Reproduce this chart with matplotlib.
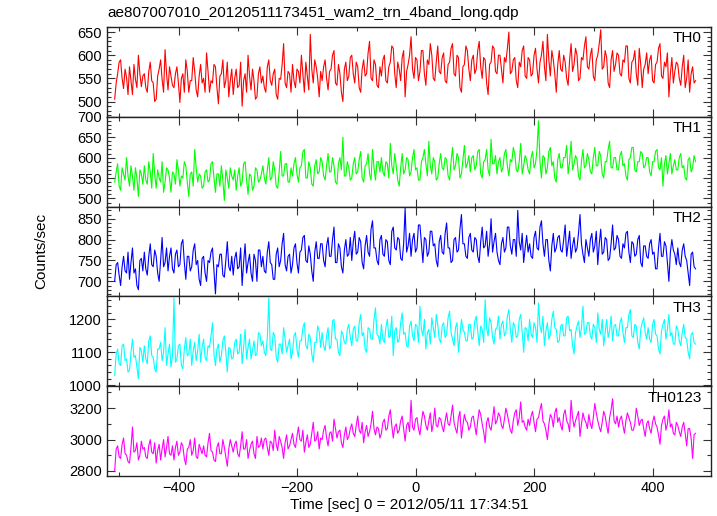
import numpy as np
import matplotlib
matplotlib.use("Agg")
import matplotlib.pyplot as plt
from matplotlib.ticker import MultipleLocator

plt.rcParams["font.family"] = ["Liberation Sans", "DejaVu Sans"]

title = "ae807007010_20120511173451_wam2_trn_4band_long.qdp"
xlabel = "Time [sec] 0 = 2012/05/11 17:34:51"
ylabel = "Counts/sec"

T_START, T_STEP = -508.0, 2.5

th0 = [505,540, 560,585, 590,550, 528,570, 552,515, 575,545, 515,580, 548,530, 600,560, 532,555,
       560,530, 520,565, 585,545, 540,500, 505,555, 570,590, 548,520, 612,560, 525,575, 555,535,
       530,560, 575,540, 498,550, 560,520, 590,565, 520,545, 545,595, 565,525, 510,555, 580,540,
       550,520, 605,565, 520,545, 540,580, 575,530, 495,555, 560,590, 530,545, 585,510, 545,570,
       515,550, 570,530, 535,585, 490,545, 560,520, 600,555, 525,570, 545,505, 510,560, 575,540,
       555,530, 520,575, 590,545, 535,560, 570,515, 505,550, 548,580, 625,540, 530,565, 560,520,
       580,545, 530,570, 565,540, 600,560, 520,585, 555,525, 645,570, 540,590, 575,550, 510,565,
       545,575, 590,550, 525,565, 570,600, 610,540, 535,580, 560,520, 500,570, 585,545, 555,595,
       600,560, 540,585, 575,530, 520,570, 590,555, 560,605, 630,550, 545,590, 580,535, 530,575,
       555,590, 600,545, 540,575, 585,620, 615,560, 530,585, 570,545, 595,610, 510,565, 580,600,
       640,570, 550,595, 590,545, 565,610, 610,560, 535,590, 580,625, 600,550, 545,585, 620,565,
       560,595, 605,545, 540,580, 585,615, 625,560, 555,600, 595,530, 520,575, 580,620, 610,570,
       545,590, 600,560, 570,610, 630,575, 550,595, 590,540, 515,580, 585,620, 615,565, 560,600,
       600,570, 540,595, 585,615, 650,560, 565,590, 595,545, 530,585, 575,610, 620,555, 550,595,
       590,555, 560,600, 615,570, 540,585, 600,630, 575,545, 645,590, 555,610, 590,560, 520,580,
       610,570, 565,600, 585,550, 535,590, 625,565, 580,615, 600,545, 550,595, 590,620, 640,575,
       570,600, 615,555, 545,590, 600,625, 655,570, 575,610, 595,540, 530,590, 610,565, 580,605,
       600,560, 555,590, 585,620, 620,550, 540,585, 590,610, 560,535, 615,580, 530,570, 580,605,
       560,590, 600,545, 540,580, 585,615, 625,555, 550,585, 575,605, 510,560, 595,540, 565,585,
       580,550, 535,575, 600,530, 550,590, 520,560, 575,540, 545]

th1 = [540,565, 585,530, 520,575, 560,545, 600,555, 530,580, 555,520, 575,550, 505,570, 560,535,
       580,545, 535,590, 565,525, 610,560, 525,570, 550,540, 590,515, 540,575, 570,550, 515,565,
       560,535, 595,570, 530,555, 550,590, 580,540, 505,560, 565,530, 620,575, 540,560, 555,525,
       530,565, 570,540, 545,585, 590,550, 515,560, 560,530, 580,545, 495,570, 550,525, 575,555,
       545,570, 520,555, 575,530, 540,585, 590,545, 510,560, 555,520, 530,575, 570,540, 545,560,
       580,550, 535,570, 600,545, 550,590, 570,530, 525,565, 615,555, 555,585, 585,540, 540,575,
       555,585, 600,560, 540,575, 580,615, 620,550, 550,590, 575,535, 530,580, 595,560, 565,600,
       590,555, 545,580, 610,565, 565,600, 580,540, 535,585, 600,570, 650,555, 555,590, 575,545,
       550,585, 600,560, 565,595, 615,550, 540,580, 585,610, 560,545, 620,575, 545,590, 590,565,
       600,565, 555,590, 585,550, 635,580, 560,610, 580,545, 530,575, 610,560, 570,600, 595,555,
       565,600, 620,570, 575,545, 545,590, 600,620, 585,555, 640,580, 560,600, 590,545, 550,585,
       610,575, 570,600, 595,555, 545,590, 625,570, 580,610, 600,550, 560,595, 630,575, 585,605,
       565,600, 605,570, 580,615, 620,560, 550,590, 595,620, 570,555, 645,585, 585,605, 560,590,
       600,565, 575,610, 620,580, 555,595, 590,625, 610,570, 565,590, 635,560, 580,605, 595,570,
       560,600, 615,575, 585,620, 690,590, 550,605, 600,560, 575,615, 625,580, 590,550, 540,595,
       610,575, 575,600, 600,630, 560,590, 640,570, 585,605, 595,555, 545,590, 620,575, 580,610,
       595,565, 560,600, 625,580, 580,615, 605,560, 550,590, 590,620, 640,575, 575,600, 600,570,
       570,605, 615,580, 585,555, 545,595, 600,625, 625,570, 565,590, 590,615, 610,575, 580,600,
       600,565, 555,590, 590,615, 620,575, 570,600, 530,585, 605,560, 585,610, 560,580, 595,570,
       570,600, 610,575, 580,550, 545,595, 600,565, 575,605, 590]

th2 = [700,740, 745,715, 690,735, 760,725, 720,770, 705,745, 780,720, 730,690, 680,750, 755,725,
       770,730, 715,760, 790,740, 735,775, 760,720, 700,750, 805,735, 745,780, 725,760, 780,730,
       720,765, 775,735, 740,790, 800,745, 705,760, 760,725, 735,775, 790,740, 750,705, 690,755,
       760,720, 700,750, 745,770, 780,725, 670,740, 735,765, 765,715, 710,750, 795,735, 725,760,
       715,755, 770,730, 735,780, 690,745, 790,720, 745,765, 720,700, 765,750, 700,775, 775,735,
       760,725, 720,770, 795,745, 740,705, 705,765, 780,735, 750,790, 815,740, 725,760, 765,720,
       740,780, 790,745, 720,770, 775,805, 810,750, 745,785, 765,725, 700,770, 795,755, 755,790,
       790,750, 735,785, 805,760, 760,800, 830,745, 745,790, 780,735, 720,775, 800,760, 765,805,
       750,795, 820,765, 770,805, 795,745, 730,785, 810,770, 760,825, 845,780, 780,750, 740,800,
       810,765, 760,800, 795,750, 740,820, 830,780, 775,805, 800,755, 750,790, 875,770, 785,815,
       760,800, 815,770, 780,835, 835,790, 745,805, 800,760, 770,820, 820,785, 790,750, 735,795,
       810,770, 765,815, 840,780, 780,745, 750,800, 805,770, 775,825, 860,790, 790,760, 755,805,
       815,775, 770,805, 800,760, 745,795, 830,780, 785,820, 760,790, 850,770, 795,815, 770,750,
       740,790, 805,770, 780,830, 830,785, 765,800, 800,760, 870,795, 775,815, 745,780, 810,770,
       790,760, 755,805, 820,780, 775,830, 845,790, 760,800, 800,750, 725,785, 815,770, 780,805,
       810,775, 770,800, 835,760, 790,820, 755,785, 805,770, 780,815, 860,790, 765,745, 800,780,
       760,800, 815,770, 785,820, 740,790, 825,765, 770,805, 800,750, 755,790, 835,775, 780,810,
       800,760, 755,790, 780,815, 820,770, 745,795, 790,760, 765,800, 810,745, 735,785, 785,760,
       755,790, 800,765, 770,730, 730,780, 815,760, 760,795, 785,745, 700,770, 800,775, 765,740,
       780,745, 735,775, 790,760, 750,720, 690,765, 770,735, 730]

th3 = [1030,1095, 1110,1065, 1060,1120, 1125,1075, 1080,1040, 1045,1100, 1140,1085, 1090,1055, 1020,1115, 1105,1070,
       1120,1080, 1065,1135, 1150,1090, 1085,1050, 1040,1110, 1110,1130, 1075,1100, 1175,1060, 1095,1125, 1055,1090,
       1265,1070, 1080,1120, 1125,1060, 1050,1110, 1145,1090, 1095,1140, 1060,1105, 1130,1075, 1105,1155, 1070,1115,
       1140,1085, 1075,1120, 1115,1150, 1190,1095, 1060,1110, 1125,1070, 1090,1135, 1150,1100, 1040,1115, 1110,1080,
       1085,1130, 1140,1095, 1100,1155, 1065,1115, 1170,1080, 1115,1140, 1080,1105, 1135,1090, 1095,1160, 1155,1120,
       1135,1100, 1090,1145, 1265,1110, 1105,1160, 1150,1085, 1070,1125, 1125,1095, 1175,1140, 1100,1120, 1140,1080,
       1100,1150, 1160,1110, 1085,1135, 1135,1175, 1190,1120, 1110,1155, 1145,1095, 1070,1130, 1130,1180, 1165,1115,
       1160,1120, 1105,1150, 1175,1110, 1120,1195, 1200,1140, 1140,1100, 1090,1165, 1155,1130, 1125,1170, 1185,1145,
       1120,1170, 1180,1135, 1135,1190, 1215,1150, 1160,1110, 1100,1175, 1170,1140, 1140,1200, 1235,1155, 1150,1125,
       1185,1140, 1130,1175, 1200,1145, 1150,1210, 1090,1165, 1175,1130, 1140,1190, 1220,1155, 1160,1120, 1115,1180,
       1195,1150, 1135,1185, 1180,1130, 1240,1170, 1150,1200, 1110,1160, 1170,1125, 1205,1175, 1145,1215, 1185,1140,
       1130,1180, 1190,1145, 1155,1205, 1225,1160, 1140,1120, 1175,1190, 1100,1150, 1200,1170, 1160,1135, 1135,1185,
       1185,1140, 1145,1195, 1210,1165, 1120,1180, 1170,1130, 1260,1175, 1150,1205, 1190,1145, 1125,1170, 1175,1210,
       1140,1185, 1195,1150, 1160,1210, 1230,1170, 1130,1190, 1180,1145, 1150,1200, 1215,1160, 1100,1175, 1170,1135,
       1200,1155, 1145,1190, 1175,1130, 1250,1180, 1160,1210, 1120,1165, 1190,1140, 1155,1200, 1225,1175, 1170,1130,
       1135,1180, 1185,1150, 1150,1205, 1210,1165, 1170,1120, 1095,1160, 1180,1195, 1145,1175, 1240,1155, 1160,1190,
       1190,1150, 1140,1185, 1175,1130, 1220,1170, 1155,1200, 1120,1160, 1200,1145, 1165,1210, 1135,1180, 1185,1150,
       1150,1190, 1205,1160, 1130,1175, 1175,1215, 1230,1150, 1145,1185, 1180,1130, 1110,1170, 1190,1205, 1160,1140,
       1175,1140, 1130,1185, 1200,1155, 1150,1110, 1095,1165, 1185,1200, 1140,1170, 1215,1150, 1160,1125, 1125,1180,
       1170,1135, 1120,1160, 1185,1145, 1140,1100, 1080,1155, 1160,1130, 1125]

th0123 = [2800,2940, 2960,2890, 2880,2970, 3010,2910, 2900,2860, 2850,2950, 3080,2920, 2930,2980, 2870,2900, 2990,2940,
          2950,2890, 2880,2960, 3000,2920, 2910,2980, 2850,2930, 2970,2870, 2940,3000, 2890,2950, 3020,2910, 2900,2960,
          2870,2950, 2990,2900, 2920,2980, 2960,2880, 2840,2940, 2950,3000, 2900,2930, 3010,2890, 2880,2970, 2940,2910,
          2960,2900, 2890,2980, 3040,2930, 2920,2870, 2860,2950, 2980,2910, 2910,3000, 2950,2890, 2830,2940, 3000,2960,
          2920,2970, 2990,2910, 2890,2960, 3050,2940, 2940,3000, 2880,2930, 2970,2990, 2910,2880, 3020,2950, 2960,3010,
          2940,3000, 3010,2950, 2900,2990, 2980,2930, 3060,2970, 2930,3020, 2990,2950, 2880,2980, 3030,2940, 2960,3000,
          3040,2970, 2950,3020, 3080,3000, 2990,3060, 2920,2980, 3030,2950, 2970,3040, 3110,2990, 3000,3050, 2940,3010,
          3000,3060, 3090,3010, 2960,3040, 3050,2990, 3130,3070, 3010,3050, 3060,2980, 2950,3030, 3080,3000, 3020,3070,
          3100,3040, 3020,3090, 3150,3060, 3040,3110, 2980,3050, 3090,3020, 3050,3100, 3180,3070, 3030,3080, 3070,3010,
          3040,3110, 3130,3060, 3070,3150, 3190,3090, 3010,3080, 3100,3040, 3060,3120, 3150,3070, 2990,3090, 3110,3050,
          3250,3080, 3060,3130, 3140,3070, 3030,3110, 3180,3150, 3090,3060, 3120,3170, 3050,3100, 3200,3090, 3080,3140,
          3130,3080, 3050,3120, 3170,3100, 3090,3150, 3220,3110, 3070,3040, 3140,3180, 3010,3090, 3160,3120, 3110,3060,
          3080,3140, 3150,3090, 3030,3120, 3190,3160, 3100,3050, 2980,3110, 3140,3080, 3060,3130, 3210,3100, 3120,3170,
          3150,3090, 3070,3130, 3200,3160, 3110,3060, 3040,3120, 3170,3190, 3090,3140, 3240,3110, 3120,3080, 3060,3130,
          3090,3150, 3180,3110, 3050,3130, 3140,3190, 3230,3120, 3100,3060, 3000,3100, 3160,3140, 3080,3170, 3200,3110,
          3140,3090, 3060,3160, 3190,3120, 3100,3050, 3250,3140, 3080,3120, 3150,3180, 3020,3100, 3170,3130, 3110,3070,
          3160,3100, 3070,3140, 3230,3170, 3120,3080, 3050,3110, 3180,3150, 3090,3040, 3140,3190, 3260,3120, 3100,3150,
          3080,3130, 3150,3090, 3040,3120, 3170,3140, 3110,3060, 3060,3100, 3200,3150, 3090,3120, 3130,3070, 3020,3100,
          3120,3070, 3040,3110, 3150,3100, 3080,3030, 2970,3090, 3130,3150, 3060,3100, 3190,3080, 3100,3040, 3030,3110,
          3090,3050, 3020,3080, 3110,3040, 2960,3070, 3070,3010, 2880,3030, 3040]

labels = ["TH0", "TH1", "TH2", "TH3", "TH0123"]
series = [th0, th1, th2, th3, th0123]
colors = ["#ff0000", "#00ff00", "#0000ff", "#00ffff", "#ff00ff"]
ylims = [(467, 661), (480, 700), (664, 879), (997, 1270), (2768, 3340)]
ymajor = [50, 50, 50, 100, 200]
yminor = [10, 10, 10, 20, 100]

fig = plt.figure(figsize=(7.17, 5.16), dpi=100)
fig.subplots_adjust(left=0.1492, right=0.9916, top=0.9477, bottom=0.0775, hspace=0)
axes = fig.subplots(5, 1, sharex=True)

for ax, lab, y, c, yl, ma, mi in zip(axes, labels, series, colors, ylims, ymajor, yminor):
    t = T_START + T_STEP * np.arange(len(y))
    ax.plot(t, y, color=c, lw=0.8)
    ax.set_ylim(*yl)
    ax.set_xlim(-521, 498)
    ax.yaxis.set_major_locator(MultipleLocator(ma))
    ax.yaxis.set_minor_locator(MultipleLocator(mi))
    ax.xaxis.set_major_locator(MultipleLocator(200))
    ax.xaxis.set_minor_locator(MultipleLocator(100))
    ax.tick_params(which="both", direction="in", top=True, right=True,
                   labelsize=10.5, colors="#333333", labelcolor="black")
    ax.tick_params(which="major", length=6, width=0.8)
    ax.tick_params(which="minor", length=3, width=0.8)
    for s in ax.spines.values():
        s.set_color("#222222")
        s.set_linewidth(1.0)
    ax.text(0.985, 0.95, lab, transform=ax.transAxes, ha="right", va="top",
            fontsize=11, color="black")

axes[-1].set_xlabel(xlabel, fontsize=11, labelpad=2)
fig.text(0.1492, 0.975, title, ha="left", va="center", fontsize=11)
fig.text(0.057, 0.513, ylabel, rotation=90, ha="center", va="center", fontsize=11)

fig.savefig("out.png", dpi=100)
